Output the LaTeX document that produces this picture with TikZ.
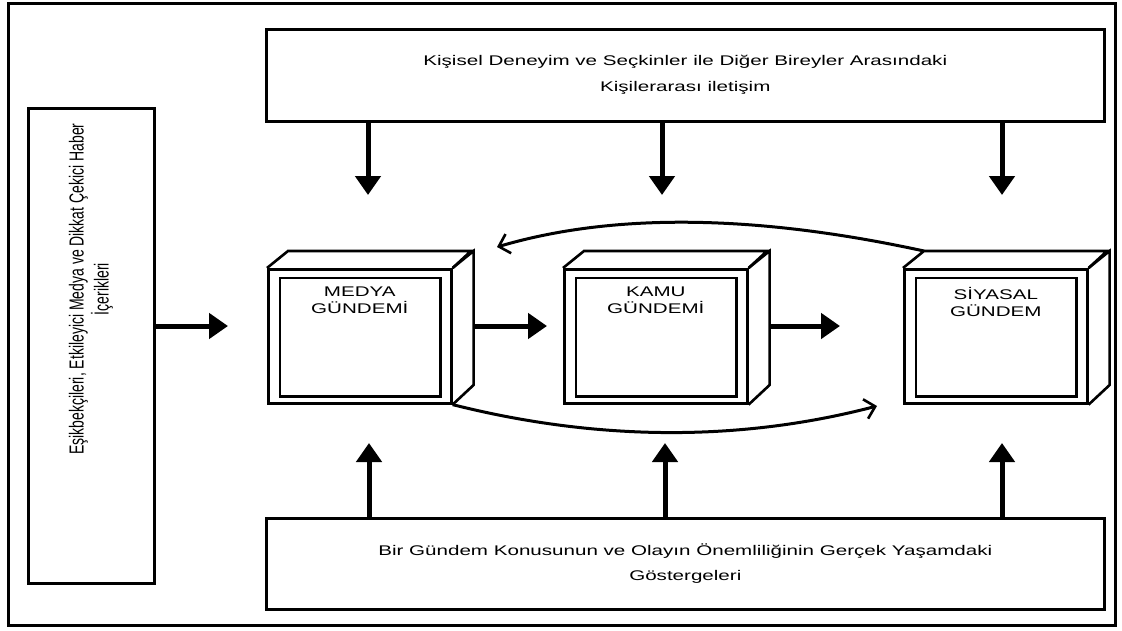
\documentclass[tikz,border=0pt]{standalone}
\usepackage{fontspec}
\setmainfont{Liberation Sans}
\usepackage{graphicx}
\usetikzlibrary{arrows.meta,calc}
\newcommand\wide[1]{\scalebox{1.47}[1]{#1}}
\newcommand\tallx[1]{\scalebox{1}[1.45]{#1}}
\tikzset{
  frame/.style={draw, line width=2.6pt, inner sep=0pt, anchor=north west},
  face/.style={draw, line width=2.6pt, minimum width=183pt, minimum height=134pt, inner sep=0pt, anchor=north west},
  cubeline/.style={line width=2.6pt, line join=miter},
  fat/.style={line width=5pt, -{Triangle[length=19pt,width=25pt]}},
  curvearrow/.style={line width=3pt, -{Straight Barb[length=10pt,width=20pt,line width=2.6pt]}},
  lbl/.style={font=\fontsize{14}{17}\selectfont, align=center, inner sep=0pt}
}
\newcommand\cubeparts[1]{%
  \draw[cubeline] (#1.north west) -- ++(21,-17) -- ++(183,0) -- (#1.north east);
  \draw[cubeline] (#1.north east) -- ++(21,-17) -- ++(0,134) -- (#1.south east);
  \draw[cubeline] ($(#1.north west)+(13,10)$) rectangle ($(#1.south east)+(-12,-8)$);
}
\begin{document}
\begin{tikzpicture}[x=1pt,y=-1pt]
\useasboundingbox (0,0) rectangle (1122,630);
\draw[line width=3pt] (8,3) rectangle (1115,625);

% side boxes
\node[frame, minimum width=838pt, minimum height=92pt, lbl] (top) at (265,28)
  {\wide{Kişisel Deneyim ve Seçkinler ile Diğer Bireyler Arasındaki}\\[9pt]\wide{Kişilerarası iletişim}};
\node[frame, minimum width=838pt, minimum height=91pt, lbl] (bottom) at (265,517)
  {\wide{Bir Gündem Konusunun ve Olayın Önemliliğinin Gerçek Yaşamdaki}\\[8pt]\wide{Göstergeleri}};
\node[frame, minimum width=126pt, minimum height=475pt] (left) at (27,107) {};
\node[lbl, rotate=90] (lefttext) at (91,289)
  {\tallx{Eşikbekçileri, Etkileyici Medya ve Dikkat Çekici Haber}\\[2pt]\tallx{İçerikleri}};

% cubes
\node[face] (medya) at (267,268) {};
\node[face] (kamu) at (563,268) {};
\node[face] (siyasal) at (903,268) {};
\cubeparts{medya}
\cubeparts{kamu}
\cubeparts{siyasal}
\node[lbl, anchor=north] (medyatext) at ($(medya.north)+(0,19)$) {\wide{MEDYA}\\\wide{GÜNDEMİ}};
\node[lbl, anchor=north] (kamutext) at ($(kamu.north)+(0,19)$) {\wide{KAMU}\\\wide{GÜNDEMİ}};
\node[lbl, anchor=north] (siyasaltext) at ($(siyasal.north)+(0,19)$) {\wide{SİYASAL}\\\wide{GÜNDEM}};

% arrow end points
\coordinate (t1) at (368,195);
\coordinate (t2) at (662,195);
\coordinate (t3) at (1002,195);
\coordinate (b1) at (369,443);
\coordinate (b2) at (665,443);
\coordinate (b3) at (1002,443);
\coordinate (h0) at (228,326);
\coordinate (h1s) at (475,326);
\coordinate (h1) at (547,326);
\coordinate (h2s) at (770,326);
\coordinate (h2) at (840,326);
\coordinate (sback) at ($(siyasal.north west)+(21,-17)$);
\coordinate (topend) at (497,247);
\coordinate (botend) at (877,406);

\draw[fat] (top.south -| t1) -- (t1);
\draw[fat] (top.south -| t2) -- (t2);
\draw[fat] (top.south -| t3) -- (t3);
\draw[fat] (bottom.north -| b1) -- (b1);
\draw[fat] (bottom.north -| b2) -- (b2);
\draw[fat] (bottom.north -| b3) -- (b3);
\draw[fat] (left.east |- h0) -- (h0);
\draw[fat] (h1s) -- (h1);
\draw[fat] (h2s) -- (h2);

\draw[curvearrow] (sback) .. controls (754,214) and (612,213) .. (topend);
\draw[curvearrow] (medya.south east) .. controls (597,441) and (739,442) .. (botend);
\end{tikzpicture}
\end{document}
